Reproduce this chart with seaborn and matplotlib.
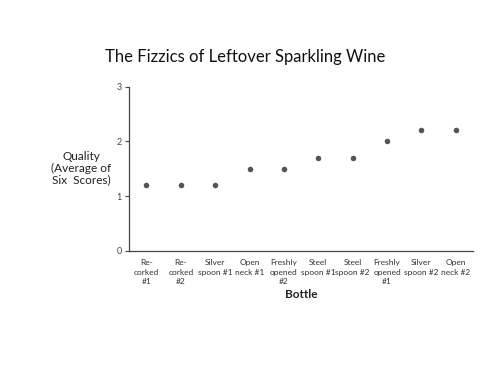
import matplotlib
matplotlib.use("Agg")
import matplotlib.pyplot as plt
import seaborn as sns
import pandas as pd

bottles = ["Re-\ncorked\n#1", "Re-\ncorked\n#2", "Silver\nspoon #1", "Open\nneck #1",
           "Freshly\nopened\n#2", "Steel\nspoon #1", "Steel\nspoon #2",
           "Freshly\nopened\n#1", "Silver\nspoon #2", "Open\nneck #2"]
quality = [1.2, 1.2, 1.2, 1.5, 1.5, 1.7, 1.7, 2.0, 2.2, 2.2]

df = pd.DataFrame({"Bottle": bottles, "Quality": quality})

sns.set_style("white")
plt.rcParams['font.family'] = ['Lato', 'DejaVu Sans']

fig = plt.figure(figsize=(5, 3.75), dpi=100)
ax = fig.add_axes([0.257, 0.331, 0.689, 0.438])

sns.stripplot(data=df, x="Bottle", y="Quality", jitter=False, color="#555555",
              size=4, ax=ax)

ax.set_xlim(-0.52, 9.5)
ax.set_ylim(0, 3)
ax.set_yticks([0, 1, 2, 3])
ax.tick_params(axis="y", length=3, width=0.8, color="#444444", labelsize=6.5,
               labelcolor="#444444", left=True, pad=2)
ax.tick_params(axis="x", length=0, labelsize=6, labelcolor="#333333", pad=6)
for lbl in ax.get_xticklabels():
    lbl.set_linespacing(1.42)

sns.despine(ax=ax)
for side in ["left", "bottom"]:
    ax.spines[side].set_color("#444444")
    ax.spines[side].set_linewidth(0.9)

ax.set_xlabel("Bottle", fontsize=8.5, fontweight="bold", color="#222222", labelpad=3)
ax.set_ylabel("")
fig.text(0.162, 0.552, "Quality\n(Average of\nSix  Scores)", ha="center", va="center",
         fontsize=8.5, color="#222222", linespacing=1.05)
fig.text(0.49, 0.848, "The Fizzics of Leftover Sparkling Wine", ha="center", va="center",
         fontsize=12, color="#111111")

fig.savefig("out.png", dpi=100, facecolor="white")
